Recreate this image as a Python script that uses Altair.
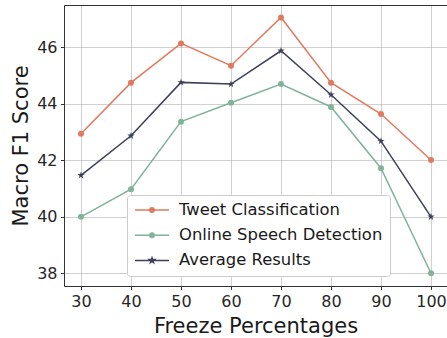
import altair as alt
import pandas as pd

freeze = [30, 40, 50, 60, 70, 80, 90, 100]
tweet = [42.94, 44.75, 46.14, 45.35, 47.06, 44.75, 43.64, 42.01]
online = [40.00, 40.98, 43.37, 44.04, 44.70, 43.89, 41.72, 38.00]
average = [41.47, 42.87, 44.76, 44.70, 45.88, 44.32, 42.68, 40.00]
series_names = ["Tweet Classification", "Online Speech Detection", "Average Results"]
colors = ["#E07A5F", "#81B29A", "#3D405B"]
x_ticks = [30, 40, 50, 60, 70, 80, 90, 100]
y_ticks = [38, 40, 42, 44, 46]

rows = []
for name, vals in zip(series_names, [tweet, online, average]):
    for f, v in zip(freeze, vals):
        rows.append({"freeze": f, "score": v, "series": name})
df = pd.DataFrame(rows)

FONT = "DejaVu Sans"
STAR = "M0,-1L0.225,-0.309L0.951,-0.309L0.363,0.118L0.588,0.809L0,0.382L-0.588,0.809L-0.363,0.118L-0.951,-0.309L-0.225,-0.309Z"
LEG_CIRCLE = "M-1,0L1,0M0.13,0A0.13,0.13,0,1,1,-0.13,0A0.13,0.13,0,1,1,0.13,0Z"
LEG_STAR = ("M-1,0L1,0M0,-0.15L0.034,-0.046L0.143,-0.046L0.054,0.018L0.088,0.121L0,0.057"
            "L-0.088,0.121L-0.054,0.018L-0.143,-0.046L-0.034,-0.046Z")

xscale = alt.Scale(domain=[26.6, 103.2], nice=False, zero=False)
yscale = alt.Scale(domain=[37.55, 47.5], nice=False, zero=False)
cscale = alt.Scale(domain=series_names, range=colors)

x_bottom = alt.X("freeze:Q", scale=xscale, axis=alt.Axis(
    values=x_ticks, title="Freeze Percentages", orient="bottom", grid=True,
    labelFontSize=16, titleFontSize=21, labelFont=FONT, titleFont=FONT,
    tickSize=3.5, labelPadding=3.5, titlePadding=6, titleFontWeight="normal",
    labelFontWeight="normal",
    domainColor="#333333", tickColor="#333333", labelColor="#262626", titleColor="#1a1a1a",
    gridColor="#b0b0b0", gridOpacity=0.6, labelFlush=False))
x_none = alt.X("freeze:Q", scale=xscale, axis=None)
x_top = alt.X("freeze:Q", scale=xscale, axis=alt.Axis(
    orient="top", labels=False, ticks=False, grid=False, title=None, domain=True,
    domainColor="#333333"))
y_left = alt.Y("score:Q", scale=yscale, axis=alt.Axis(
    values=y_ticks, title="Macro F1 Score", orient="left", grid=True,
    labelFontSize=16, titleFontSize=21, labelFont=FONT, titleFont=FONT,
    tickSize=3.5, labelPadding=3.5, titlePadding=5, titleFontWeight="normal",
    labelFontWeight="normal",
    domainColor="#333333", tickColor="#333333", labelColor="#262626", titleColor="#1a1a1a",
    gridColor="#b0b0b0", gridOpacity=0.6, labelFlush=False))
y_none = alt.Y("score:Q", scale=yscale, axis=None)

base = alt.Chart(df)

leg = alt.Legend(
    title=None, orient="none", legendX=63, legendY=190,
    labelFontSize=16.4, labelFont=FONT, labelColor="#1a1a1a", labelLimit=400,
    symbolSize=1156, symbolStrokeWidth=1.5, labelOffset=9, clipHeight=16,
    rowPadding=8.2, padding=7, fillColor="#ffffff",
    strokeColor="#cccccc", cornerRadius=3,
)

legend_layer = base.mark_point(filled=True, opacity=1, strokeWidth=1.5, size=0).encode(
    x=x_top, y=y_none,
    shape=alt.Shape("series:N", scale=alt.Scale(domain=series_names, range=[LEG_CIRCLE, LEG_CIRCLE, LEG_STAR]), legend=leg),
    color=alt.Color("series:N", scale=cscale, legend=leg),
    stroke=alt.Stroke("series:N", scale=cscale, legend=leg),
)

lines = base.mark_line(strokeWidth=1.5).encode(
    x=x_bottom, y=y_left,
    color=alt.Color("series:N", scale=cscale),
    order=alt.Order("freeze:Q"),
)

circles = base.transform_filter(
    alt.datum.series != "Average Results"
).mark_point(filled=True, shape="circle", size=36, opacity=1).encode(
    x=x_none, y=y_none,
    color=alt.Color("series:N", scale=cscale),
)

stars = base.transform_filter(
    alt.datum.series == "Average Results"
).mark_point(filled=True, shape=STAR, size=60, opacity=1, color="#3D405B").encode(
    x=x_none, y=y_none,
)

chart = alt.layer(legend_layer, lines, circles, stars).resolve_axis(
    x="independent", y="independent"
).properties(
    width=383, height=281,
    autosize=alt.AutoSizeParams(type="none"),
    padding={"left": 64, "top": 5, "right": 0, "bottom": 52},
).configure_view(stroke=None).configure(background="white")

chart.save("out.html", embed_options={"renderer": "svg", "actions": False})
